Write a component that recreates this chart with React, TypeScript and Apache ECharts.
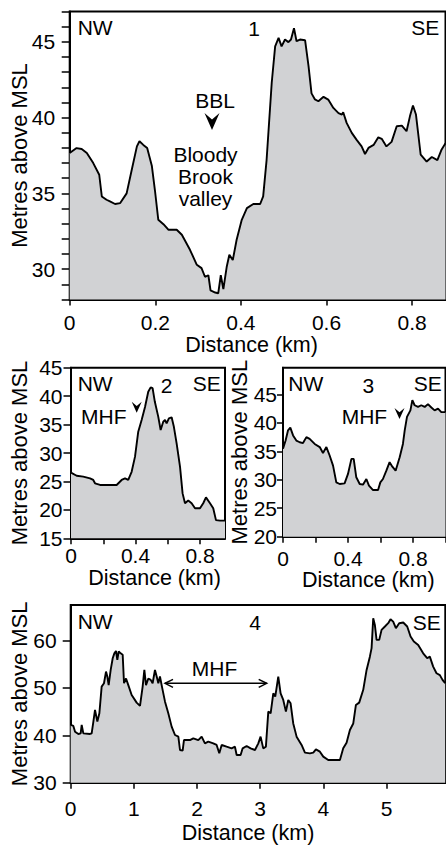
import React, { useEffect, useRef } from "react";
import * as echarts from "echarts";

const FONT = "'Liberation Sans', Arial, Helvetica, sans-serif";
const FILL = "#d1d2d4";

// Profile 1 (distance km, metres above MSL)
const profile1: number[][] = [
  [0, 37.67], [0.016, 37.99], [0.028, 37.93], [0.04, 37.67], [0.055, 37.0], [0.069, 36.23],
  [0.075, 34.8], [0.086, 34.58], [0.094, 34.47], [0.106, 34.3], [0.118, 34.36], [0.133, 35.0],
  [0.145, 36.56], [0.157, 38.1], [0.163, 38.44], [0.172, 38.2], [0.181, 38.0], [0.192, 36.8],
  [0.199, 35.24], [0.207, 33.26], [0.219, 32.97], [0.231, 32.6], [0.25, 32.6], [0.262, 32.27],
  [0.281, 31.28], [0.297, 30.29], [0.308, 30.07], [0.316, 29.5], [0.324, 29.6], [0.329, 28.6],
  [0.34, 28.46], [0.347, 28.41], [0.353, 29.6], [0.359, 28.68], [0.367, 30.18], [0.373, 30.95],
  [0.381, 30.6], [0.39, 31.94], [0.402, 33.26], [0.414, 34.03], [0.429, 34.3], [0.445, 34.3],
  [0.452, 34.8], [0.46, 37.2], [0.472, 42.3], [0.48, 44.7], [0.488, 45.26], [0.495, 44.7],
  [0.503, 45.15], [0.511, 44.98], [0.517, 45.15], [0.524, 45.9], [0.53, 45.04], [0.538, 45.15],
  [0.55, 45.1], [0.558, 43.4], [0.565, 41.6], [0.573, 41.2], [0.581, 41.08], [0.593, 41.37],
  [0.604, 41.19], [0.616, 40.64], [0.628, 40.3], [0.636, 40.2], [0.639, 40.35], [0.647, 39.65],
  [0.659, 38.99], [0.67, 38.55], [0.682, 38.1], [0.69, 37.6], [0.698, 38.0], [0.71, 38.2],
  [0.721, 38.7], [0.729, 38.6], [0.74, 38.1], [0.752, 38.4], [0.764, 39.43], [0.776, 39.47],
  [0.787, 39.1], [0.795, 40.1], [0.802, 40.8], [0.809, 40.2], [0.82, 37.55], [0.834, 37.1],
  [0.846, 37.4], [0.859, 37.2], [0.869, 37.9], [0.878, 38.3],
];

const profile2: number[][] = [
  [0, 26.55], [0.035, 26.0], [0.076, 25.85], [0.118, 25.55], [0.138, 25.26], [0.149, 24.67],
  [0.18, 24.38], [0.242, 24.38], [0.283, 24.38], [0.314, 25.26], [0.335, 25.55], [0.355, 25.26],
  [0.376, 26.7], [0.397, 29.36], [0.417, 33.75], [0.438, 35.8], [0.459, 38.1], [0.479, 40.78],
  [0.494, 41.54], [0.506, 41.4], [0.52, 39.0], [0.541, 36.4], [0.556, 34.04], [0.572, 35.5],
  [0.583, 35.8], [0.593, 35.2], [0.607, 36.1], [0.624, 36.27], [0.638, 34.6], [0.655, 31.7],
  [0.676, 27.6], [0.692, 22.9], [0.707, 21.16], [0.727, 21.63], [0.748, 21.16], [0.769, 20.28],
  [0.8, 20.28], [0.82, 21.16], [0.837, 22.2], [0.862, 21.16], [0.882, 20.28], [0.899, 18.2],
  [0.924, 18.1], [0.955, 18.1],
];

const profile3: number[][] = [
  [0, 35.45], [0.016, 36.9], [0.031, 38.7], [0.045, 39.16], [0.062, 37.8], [0.082, 36.9],
  [0.103, 36.6], [0.123, 36.45], [0.144, 37.5], [0.164, 37.2], [0.195, 36.3], [0.226, 35.75],
  [0.246, 34.7], [0.267, 35.75], [0.287, 34.27], [0.308, 32.5], [0.328, 29.55], [0.349, 29.26],
  [0.379, 29.37], [0.4, 31.03], [0.421, 33.68], [0.435, 33.68], [0.451, 30.44], [0.472, 29.26],
  [0.492, 29.14], [0.513, 30.14], [0.529, 28.96], [0.554, 28.2], [0.585, 28.2], [0.599, 29.55],
  [0.615, 30.14], [0.636, 31.6], [0.656, 33.1], [0.673, 32.3], [0.693, 31.6], [0.718, 33.97],
  [0.738, 36.3], [0.749, 38.7], [0.763, 41.05], [0.784, 42.2], [0.796, 44.0], [0.81, 43.1],
  [0.831, 42.8], [0.851, 43.1], [0.872, 42.8], [0.892, 43.3], [0.913, 42.7], [0.933, 42.2],
  [0.954, 42.5], [0.974, 41.9], [1.0, 41.9],
];

const profile4: number[][] = [
  [0, 42.18], [0.042, 41.97], [0.069, 40.77], [0.121, 40.28], [0.158, 40.42], [0.174, 42.18],
  [0.2, 40.42], [0.306, 40.28], [0.332, 40.42], [0.359, 42.9], [0.385, 45.35], [0.422, 42.9],
  [0.454, 44.65], [0.49, 50.28], [0.527, 50.99], [0.559, 53.45], [0.58, 52.4], [0.601, 50.6],
  [0.633, 53.8], [0.665, 56.27], [0.691, 57.3], [0.717, 57.8], [0.738, 55.9], [0.76, 57.7],
  [0.791, 57.3], [0.823, 57.0], [0.844, 50.99], [0.876, 52.0], [0.912, 50.6], [0.965, 48.5],
  [1.044, 46.9], [1.097, 46.2], [1.139, 50.28], [1.166, 53.8], [1.192, 50.6], [1.229, 52.0],
  [1.266, 51.7], [1.297, 50.99], [1.334, 53.8], [1.361, 52.4], [1.387, 50.99], [1.413, 52.4],
  [1.45, 49.9], [1.493, 47.1], [1.545, 44.65], [1.598, 41.83], [1.651, 40.07], [1.704, 39.72],
  [1.73, 36.9], [1.772, 36.76], [1.793, 39.0], [1.888, 39.0], [1.941, 39.37], [2.02, 39.0],
  [2.073, 39.72], [2.125, 38.3], [2.178, 38.66], [2.257, 38.3], [2.31, 37.96], [2.352, 36.2],
  [2.39, 37.96], [2.468, 37.6], [2.547, 37.25], [2.6, 37.6], [2.627, 35.85], [2.69, 35.85],
  [2.722, 37.25], [2.785, 37.75], [2.848, 37.25], [2.917, 36.9], [2.97, 38.3], [3.006, 39.72],
  [3.048, 37.25], [3.09, 37.6], [3.128, 45.0], [3.165, 44.65], [3.207, 48.87], [3.238, 48.17],
  [3.286, 52.4], [3.323, 48.87], [3.365, 47.46], [3.407, 45.0], [3.444, 47.46], [3.481, 46.76],
  [3.523, 42.5], [3.576, 39.72], [3.655, 37.96], [3.708, 36.34], [3.787, 36.2], [3.84, 36.34],
  [3.882, 37.04], [3.945, 36.55], [3.998, 35.5], [4.077, 34.79], [4.156, 34.79], [4.262, 34.79],
  [4.314, 37.25], [4.367, 38.45], [4.42, 41.13], [4.473, 42.5], [4.515, 46.4], [4.567, 46.9],
  [4.631, 49.6], [4.684, 53.8], [4.736, 56.6], [4.763, 58.4], [4.789, 64.7], [4.815, 63.3],
  [4.842, 60.14], [4.884, 60.14], [4.921, 62.25], [4.974, 62.96], [5.026, 63.66], [5.063, 64.5],
  [5.105, 64.0], [5.148, 62.6], [5.2, 63.66], [5.264, 63.8], [5.327, 62.96], [5.38, 60.85],
  [5.432, 59.8], [5.501, 59.08], [5.58, 57.3], [5.643, 56.27], [5.685, 56.6], [5.738, 54.5],
  [5.791, 53.1], [5.844, 52.7], [5.886, 51.7], [5.928, 50.99],
];

// Axis ranges and tick values
const xMax = [0.878, 0.955, 1.0, 5.93];
const yMin = [28, 15, 20, 30];
const yMax = [47, 45, 49.7, 67.5];
const xTicks = [
  [0, 0.2, 0.4, 0.6, 0.8],
  [0, 0.2, 0.4, 0.6, 0.8],
  [0, 0.2, 0.4, 0.6, 0.8, 1.0],
  [0, 1, 2, 3, 4, 5],
];
const xLabels = [
  [0, 0.2, 0.4, 0.6, 0.8],
  [0, 0.4, 0.8],
  [0, 0.4, 0.8],
  [0, 1, 2, 3, 4, 5],
];
const yTicks = [
  [28, 29, 30, 31, 32, 33, 34, 35, 36, 37, 38, 39, 40, 41, 42, 43, 44, 45, 46, 47],
  [15, 20, 25, 30, 35, 40, 45],
  [20, 25, 30, 35, 40, 45],
  [30, 40, 50, 60],
];
const yLabels = [
  [30, 35, 40, 45],
  [15, 20, 25, 30, 35, 40, 45],
  [20, 25, 30, 35, 40, 45],
  [30, 40, 50, 60],
];
const profiles = [profile1, profile2, profile3, profile4];

const X_NAME = "Distance (km)";
const Y_NAME = "Metres above MSL";

// layout (pixels)
const grids = [
  { left: 69.7, top: 11.5, width: 375.8, height: 288 },
  { left: 71, top: 367.7, width: 154, height: 170.6 },
  { left: 283, top: 367.7, width: 162.5, height: 169 },
  { left: 70.7, top: 605, width: 374.6, height: 177.7 },
];
const xLabelMargin = [12.5, 7, 11, 15];
const xNameGap = [35, 29, 33, 39.5];
// horizontal offset of the x-axis name from the grid centre (padding trick)
const xNamePad = [
  [0, 12, 0, 0],
  [0, 0, 0, 13],
  [0, 0, 0, 8],
  [0, 20, 0, 0],
];
const yLabelMargin = [14.5, 8.5, 6, 14];
const yNameGap = [39, 40.5, 32.5, 40];
const yTickLen = [8, 7.5, 6, 8];

function fmt(v: number) {
  return String(Math.round(v * 10) / 10);
}

function txt(text: string, x: number, y: number, align: string, extra: any = {}) {
  return {
    type: "text",
    x,
    y,
    z: 100,
    style: {
      text,
      fill: "#000",
      fontSize: 21,
      fontFamily: FONT,
      align,
      textAlign: align,
      verticalAlign: "middle",
      textVerticalAlign: "middle",
      ...extra,
    },
  };
}

function chevron(cx: number, tipY: number, w: number, h: number) {
  return {
    type: "polygon",
    z: 100,
    shape: {
      points: [
        [cx - w / 2, tipY - h],
        [cx, tipY - h * 0.62],
        [cx + w / 2, tipY - h],
        [cx, tipY],
      ],
    },
    style: { fill: "#000" },
  };
}

export default function App() {
  const ref = useRef<HTMLDivElement>(null);
  useEffect(() => {
    if (!ref.current) return;
    const chart = echarts.init(ref.current, null, { renderer: "svg" });
    const option: any = {
      animation: false,
      backgroundColor: "#fff",
      textStyle: { fontFamily: FONT },
      grid: grids.map((g) => ({
        ...g,
        show: true,
        borderColor: "#000",
        borderWidth: 2,
        backgroundColor: "transparent",
        containLabel: false,
        outerBoundsMode: "none",
      })),
      xAxis: grids.map((_, i) => ({
        type: "value",
        gridIndex: i,
        min: 0,
        max: xMax[i],
        name: X_NAME,
        nameLocation: "middle",
        nameGap: xNameGap[i],
        nameMoveOverlap: false,
        nameTextStyle: {
          fontSize: 21.5,
          lineHeight: 21,
          color: "#000",
          fontFamily: FONT,
          padding: xNamePad[i],
        },
        axisLine: { show: true, lineStyle: { color: "#000", width: 2 } },
        axisTick: {
          show: true,
          inside: false,
          length: 6,
          customValues: xTicks[i],
          lineStyle: { color: "#000", width: 1.5 },
        },
        axisLabel: {
          show: true,
          customValues: xLabels[i],
          margin: xLabelMargin[i],
          fontSize: 21,
          lineHeight: 21,
          color: "#000",
          fontFamily: FONT,
          formatter: (v: number) => fmt(v),
        },
        splitLine: { show: false },
      })),
      yAxis: grids.map((_, i) => ({
        type: "value",
        gridIndex: i,
        min: yMin[i],
        max: yMax[i],
        name: Y_NAME,
        nameLocation: "middle",
        nameGap: yNameGap[i],
        nameMoveOverlap: false,
        nameTextStyle: { fontSize: 22, color: "#000", fontFamily: FONT },
        axisLine: { show: true, lineStyle: { color: "#000", width: 2 } },
        axisTick: {
          show: true,
          inside: false,
          length: yTickLen[i],
          customValues: yTicks[i],
          lineStyle: { color: "#000", width: 1.5 },
        },
        axisLabel: {
          show: true,
          customValues: yLabels[i],
          margin: yLabelMargin[i],
          fontSize: 21,
          color: "#000",
          fontFamily: FONT,
          formatter: (v: number) => fmt(v),
        },
        splitLine: { show: false },
      })),
      series: profiles.map((p, i) => ({
        type: "line",
        xAxisIndex: i,
        yAxisIndex: i,
        data: p,
        showSymbol: false,
        symbol: "none",
        smooth: false,
        clip: true,
        lineStyle: { color: "#000", width: 1.9 },
        areaStyle: { color: FILL, opacity: 1 },
        z: 2,
      })),
      graphic: [
        // panel 1
        txt("NW", 77.7, 27, "left"),
        txt("1", 254, 28, "center"),
        txt("SE", 439.3, 27, "right"),
        txt("BBL", 215, 100, "center"),
        chevron(212, 130, 15, 17),
        txt("Bloody\nBrook\nvalley", 205.5, 176.5, "center", { lineHeight: 22.3 }),
        // panel 2
        txt("NW", 77.7, 383.3, "left"),
        txt("2", 166.7, 385, "center"),
        txt("SE", 220.7, 383, "right"),
        txt("MHF", 81, 416.7, "left"),
        chevron(136.7, 412.7, 10, 11),
        // panel 3
        txt("NW", 288.3, 383.3, "left"),
        txt("3", 368.3, 385, "center"),
        txt("SE", 441.7, 383, "right"),
        txt("MHF", 341.7, 416.7, "left"),
        chevron(399.5, 419, 10, 11),
        // panel 4
        txt("NW", 77.7, 621.7, "left"),
        txt("4", 255, 622, "center"),
        txt("SE", 440.7, 622, "right"),
        txt("MHF", 214.5, 668.3, "center"),
        {
          type: "line",
          z: 100,
          shape: { x1: 165, y1: 683.3, x2: 266.7, y2: 683.3 },
          style: { stroke: "#000", lineWidth: 1.5 },
        },
        {
          type: "polyline",
          z: 100,
          shape: { points: [[173, 679.3], [165, 683.3], [173, 687.3]] },
          style: { stroke: "#000", lineWidth: 1.5, fill: null },
        },
        {
          type: "polyline",
          z: 100,
          shape: { points: [[258.7, 679.3], [266.7, 683.3], [258.7, 687.3]] },
          style: { stroke: "#000", lineWidth: 1.5, fill: null },
        },
      ],
    };
    chart.setOption(option);
    return () => chart.dispose();
  }, []);
  return (
    <div
      ref={ref}
      style={{ position: "absolute", left: 0, top: 0, width: 446, height: 845 }}
    />
  );
}
